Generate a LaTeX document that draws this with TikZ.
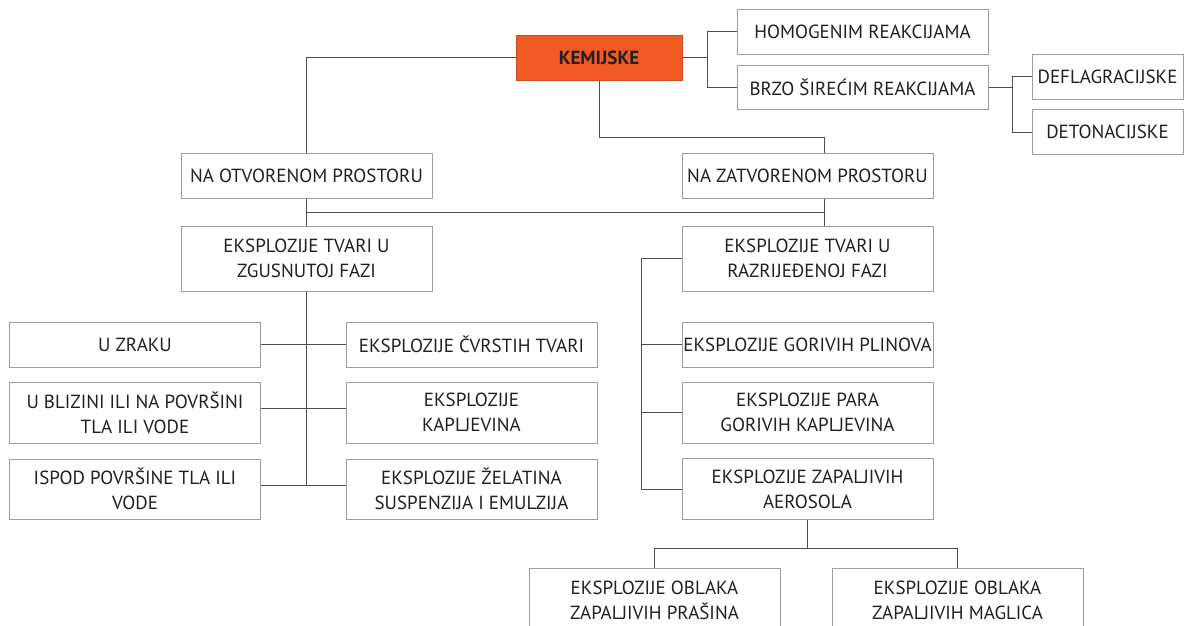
\documentclass[tikz,border=0pt]{standalone}
\usepackage{fontspec}
\setmainfont{PT Sans}
\usetikzlibrary{positioning}
\usetikzlibrary{calc}
\definecolor{kemorange}{HTML}{F15A22}
\definecolor{boxline}{HTML}{9D9D9D}
\definecolor{conline}{HTML}{4D4D4D}
\definecolor{txt}{HTML}{231F20}
\tikzstyle{box}=[rectangle,draw=boxline,fill=white,line width=1pt,minimum width=251pt,align=center,inner sep=0pt,text=txt,font=\fontsize{19}{25}\selectfont]
\tikzstyle{smallbox}=[box,minimum width=151pt]
\tikzstyle{topbox}=[box,minimum width=166pt,fill=kemorange,draw=kemorange!85!black,font=\fontsize{19}{25}\selectfont\bfseries]
\tikzstyle{link}=[draw,conline,line width=1pt]

\begin{document}
\begin{tikzpicture}[x=1pt,y=-1pt]
    \useasboundingbox (0,0) rectangle (1184,625);
    % First we draw the boxes
    \node[topbox,minimum height=45pt] (kem) at (599,57.5) {KEMIJSKE};

    \foreach \pos/\name/\label/\h in {{(862.5,31.5)/homo/HOMOGENIM REAKCIJAMA/45}, {(862.5,87)/brzo/BRZO ŠIREĆIM REAKCIJAMA/44},
        {(306.5,175.5)/otv/NA OTVORENOM PROSTORU/45}, {(807.5,175.5)/zat/NA ZATVORENOM PROSTORU/45},
        {(306.5,258.5)/zgus/{EKSPLOZIJE TVARI U\\ZGUSNUTOJ FAZI}/65}, {(807.5,258.5)/razr/{EKSPLOZIJE TVARI U\\RAZRIJEĐENOJ FAZI}/65},
        {(135,344.5)/zrak/U ZRAKU/45}, {(135,412.5)/bliz/{U BLIZINI ILI NA POVRŠINI\\TLA ILI VODE}/61},
        {(135,489)/ispod/{ISPOD POVRŠINE TLA ILI\\VODE}/60},
        {(471.5,344.5)/cvrst/EKSPLOZIJE ČVRSTIH TVARI/45}, {(471.5,412.5)/kaplj/{EKSPLOZIJE\\KAPLJEVINA}/61},
        {(471.5,489)/zelat/{EKSPLOZIJE ŽELATINA\\SUSPENZIJA I EMULZIJA}/60},
        {(807.5,344.5)/plin/EKSPLOZIJE GORIVIH PLINOVA/45}, {(807.5,412.5)/para/{EKSPLOZIJE PARA\\GORIVIH KAPLJEVINA}/61},
        {(807.5,489)/aero/{EKSPLOZIJE ZAPALJIVIH\\AEROSOLA}/61},
        {(654.5,600)/pras/{EKSPLOZIJE OBLAKA\\ZAPALJIVIH PRAŠINA}/64}, {(957.5,600)/magl/{EKSPLOZIJE OBLAKA\\ZAPALJIVIH MAGLICA}/64}}
        \node[box,minimum height=\h pt] (\name) at \pos {\label};

    \foreach \pos/\name/\label in {{(1107.5,76.5)/defl/DEFLAGRACIJSKE}, {(1107.5,132)/deto/DETONACIJSKE}}
        \node[smallbox,minimum height=45pt] (\name) at \pos {\label};

    % Then the connectors
    \draw[link] (kem.west) -| (otv.north);
    \draw[link] (kem.south) -- ++(0,57) -| ([xshift=16.5pt]zat.north);
    \draw[link] (kem.east) -- ++(25,0) coordinate (kbr);
    \foreach \name in {homo,brzo}
        \draw[link] (kbr) |- (\name.west);
    \draw[link] (brzo.east) -- ++(24,0) coordinate (bbr);
    \foreach \name in {defl,deto}
        \draw[link] (bbr) |- (\name.west);

    \draw[link] (otv.south) -- (zgus.north);
    \draw[link] ([xshift=16.5pt]zat.south) -- ([xshift=16.5pt]razr.north);
    \draw[link] ($(otv.south)+(0,14)$) -- ($([xshift=16.5pt]zat.south)+(0,14)$);

    \draw[link] (zgus.south) -- ++(0,194);
    \draw[link] (zrak.east) -- (cvrst.west);
    \foreach \source/\dest in {bliz/kaplj, ispod/zelat}
        \draw[link] ([yshift=4pt]\source.east) -- ([yshift=4pt]\dest.west);

    \draw[link] (razr.west) -- ++(-40,0) coordinate (rtop) -- (rtop |- aero.west) -- (aero.west);
    \foreach \name in {plin,para}
        \draw[link] (rtop |- \name.west) -- (\name.west);

    \draw[link] (aero.south) -- ++(0,28) coordinate (abr);
    \foreach \name in {pras,magl}
        \draw[link] (abr) -| (\name.north);
\end{tikzpicture}
\end{document}
